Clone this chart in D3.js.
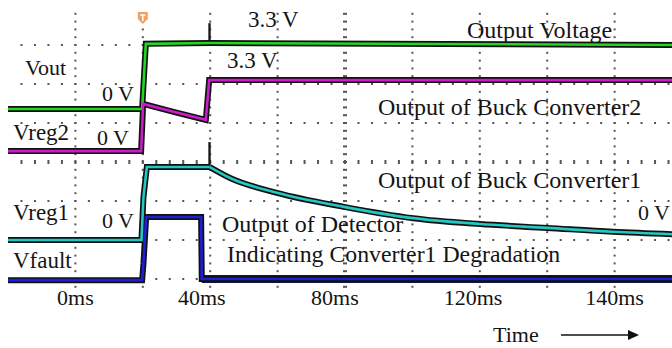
<!DOCTYPE html>
<html>
<head>
<meta charset="utf-8">
<script src="https://cdn.jsdelivr.net/npm/d3@7"></script>
<style>
  html, body { margin: 0; padding: 0; background: #fff; }
  svg text { font-family: "Liberation Serif", "DejaVu Serif", serif; fill: #141414; }
</style>
</head>
<body>
<div id="chart"></div>
<script>
// time axis labels (text as printed) and where they sit on the time axis, ms
var tickLabels = ["0ms", "40ms", "80ms", "120ms", "140ms"];
var tickMs = [0, 37.5, 77, 118, 160];

// traces: [time ms, screen level in divisions from centre line]
var vout = [[-20, 1.36], [19.5, 1.36], [19.8, 1.36], [20.9, 3.03], [39.9, 3.05], [180, 3.0]];
var vreg2 = [[-20, 0.28], [19.5, 0.28], [20.1, 1.49], [29.4, 1.28], [38.7, 1.08], [39.7, 2.1], [180, 2.1]];
var vreg1 = [[-20, -2.0], [19.6, -2.0], [20.2, -0.9], [21.2, -0.13], [39.9, -0.13]];
var vreg1Decay = [[39.9, -0.13], [45.9, -0.41], [59.8, -0.79], [79.7, -1.15], [100.2, -1.44],
                  [120.1, -1.59], [140, -1.69], [159.5, -1.79], [180, -1.86]];
var vfault = [[-20, -3.03], [19.8, -3.03], [20.2, -2.6], [21.0, -1.41], [37.3, -1.41], [37.5, -3.0], [180, -3.0]];

// switching spikes: [time ms, from level, to level]
var spikes = [[39.8, 3.03, 3.56], [39.8, -0.13, 0.51]];

var width = 672, height = 348;

var svg = d3.select("#chart").append("svg")
    .attr("width", width)
    .attr("height", height);

svg.append("rect").attr("width", width).attr("height", height).attr("fill", "#fff");

// 20 ms per division, 10 divisions across, 8 down
var x = d3.scaleLinear().domain([-20, 180]).range([8, 682]);
var y = d3.scaleLinear().domain([-4, 4]).range([318, 6]);

//--- grid -------------------------------
var grid = svg.append("g").attr("fill", "#555");
var gridBottom = 293;

// vertical dotted lines
d3.range(0, 161, 20).forEach(function (t) {
    if (t === 80) return;
    d3.range(-4, 4.01, 0.2).forEach(function (d) {
        var py = y(d);
        if (py < 10 || py > gridBottom) return;
        grid.append("rect").attr("x", x(t) - 1).attr("y", py - 1).attr("width", 2).attr("height", 2);
    });
});
// horizontal dotted lines
d3.range(-3, 3.01, 1).forEach(function (d) {
    if (d === 0) return;
    d3.range(-20, 180, 4).forEach(function (t) {
        var px = x(t);
        if (px < 10 || px > width) return;
        grid.append("rect").attr("x", px - 1).attr("y", y(d) - 1).attr("width", 2).attr("height", 2);
    });
});
// centre lines with small dashes
d3.range(-4, 4.01, 0.2).forEach(function (d) {
    var py = y(d);
    if (py < 10 || py > gridBottom) return;
    grid.append("rect").attr("x", x(80) - 2).attr("y", py - 1).attr("width", 4).attr("height", 2);
});
d3.range(-20, 180, 4).forEach(function (t) {
    var px = x(t);
    if (px < 10 || px > width) return;
    grid.append("rect").attr("x", px - 1).attr("y", y(0) - 2).attr("width", 2).attr("height", 4);
});

//--- traces -----------------------------
var line = d3.line().x(function (d) { return x(d[0]); }).y(function (d) { return y(d[1]); });
var smooth = d3.line().curve(d3.curveMonotoneX).x(function (d) { return x(d[0]); }).y(function (d) { return y(d[1]); });

// thin spikes first, traces drawn over them
svg.append("g").selectAll("line").data(spikes).enter().append("line")
    .attr("x1", function (d) { return x(d[0]); })
    .attr("x2", function (d) { return x(d[0]); })
    .attr("y1", function (d) { return y(d[1]); })
    .attr("y2", function (d) { return y(d[2]); })
    .attr("stroke", "#1a1a1a").attr("stroke-width", 2.4);

var traces = [
    { data: vout, color: "#22d622", gen: line },
    { data: vreg2, color: "#c81ec8", gen: line },
    { data: vreg1, color: "#22c8c4", gen: line },
    { data: vreg1Decay, color: "#22c8c4", gen: smooth },
    { data: vfault, color: "#1e1ed2", gen: line }
];

// detector output sits in a heavier noisy band after it drops
svg.append("path").attr("d", line(vfault.slice(5))).attr("fill", "none")
    .attr("stroke", "#15153a").attr("stroke-width", 8);

traces.forEach(function (tr) {
    svg.append("path").attr("d", tr.gen(tr.data)).attr("fill", "none")
        .attr("stroke", "#111").attr("stroke-width", 6).attr("stroke-linejoin", "miter");
});
traces.forEach(function (tr) {
    svg.append("path").attr("d", tr.gen(tr.data)).attr("fill", "none")
        .attr("stroke", tr.color).attr("stroke-width", 2.6);
});

// trigger marker
var tx = x(20);
svg.append("path").attr("d", "M" + (tx - 5) + ",12 H" + (tx + 5) + " V19 L" + tx + ",24 L" + (tx - 5) + ",19 Z")
    .attr("fill", "#f0a060");
svg.append("path").attr("d", "M" + (tx - 2.5) + ",15 H" + (tx + 2.5) + " M" + tx + ",15 V21")
    .attr("stroke", "#fff").attr("stroke-width", 1.5);

//--- labels -----------------------------
var notes = [
    ["Vout", 25, 75, 22], ["0 V", 102, 101, 22],
    ["3.3 V", 248, 27, 23], ["Output Voltage", 467, 38, 24],
    ["3.3 V", 227, 68, 23], ["Output of Buck Converter2", 378, 115, 24],
    ["Vreg2", 13, 140, 23], ["0 V", 97, 145, 22],
    ["Output of Buck Converter1", 378, 188, 24],
    ["Vreg1", 13, 220, 23], ["0 V", 638, 220, 22], ["0 V", 102, 228, 22],
    ["Output of Detector", 222, 232, 24],
    ["Indicating Converter1 Degradation", 227, 262, 23.8],
    ["Vfault", 13, 268, 23]
];
svg.append("g").selectAll("text").data(notes).enter().append("text")
    .attr("x", function (d) { return d[1]; })
    .attr("y", function (d) { return d[2]; })
    .attr("font-size", function (d) { return d[3] + "px"; })
    .text(function (d) { return d[0]; });

// time labels
svg.append("g").selectAll("text").data(tickLabels).enter().append("text")
    .attr("x", function (d, i) { return x(tickMs[i]); })
    .attr("y", 305)
    .attr("text-anchor", "middle")
    .attr("font-size", "22px")
    .text(function (d) { return d; });

svg.append("text").attr("x", 493).attr("y", 342).attr("font-size", "22px").text("Time");
svg.append("line").attr("x1", 561).attr("x2", 630).attr("y1", 335).attr("y2", 335)
    .attr("stroke", "#111").attr("stroke-width", 1.3);
svg.append("path").attr("d", "M628,330 L639,335 L628,340 Z").attr("fill", "#111");
</script>
</body>
</html>
